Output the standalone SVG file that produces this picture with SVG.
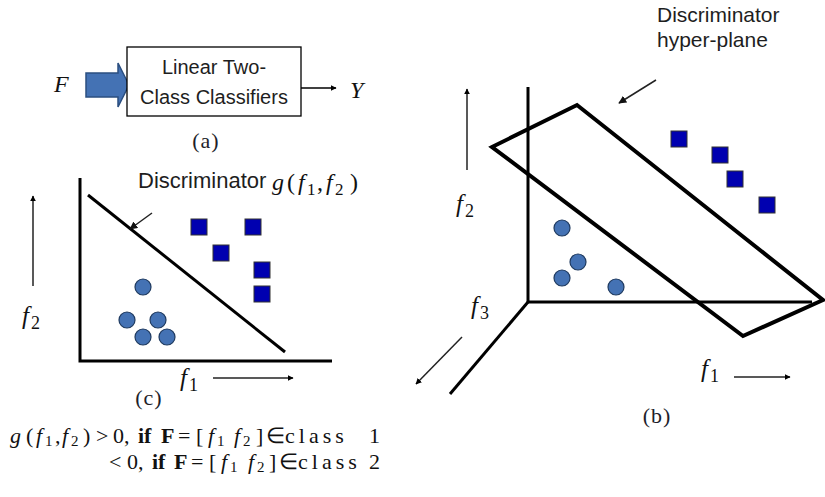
<svg xmlns="http://www.w3.org/2000/svg" width="825" height="497" viewBox="0 0 825 497">
<defs>
<marker id="ah" viewBox="0 0 10 10" refX="9" refY="5" markerWidth="6" markerHeight="6" orient="auto" markerUnits="userSpaceOnUse">
<path d="M0,0 L10,5 L0,10 z" fill="#000"/>
</marker>
<marker id="ahs" viewBox="0 0 10 10" refX="9" refY="5" markerWidth="8" markerHeight="8" orient="auto" markerUnits="userSpaceOnUse">
<path d="M0,0 L10,5 L0,10 z" fill="#111"/>
</marker>
</defs>
<style>
.sans{font-family:"Liberation Sans",Arial,sans-serif;fill:#1e1e1e;}
.ser{font-family:"Liberation Serif","Times New Roman",serif;fill:#111;}
.cap{font-family:"Liberation Serif","Times New Roman",serif;fill:#1e1e2a;font-size:22px;letter-spacing:1px;}
.it{font-style:italic;}
.b{font-weight:bold;}
.axis{stroke:#000;stroke-width:3;fill:none;}
.thick{stroke:#000;stroke-width:4;fill:none;stroke-linejoin:miter;}
.thin{stroke:#222;stroke-width:1.5;fill:none;}
.sq{fill:#0000b0;stroke:#333;stroke-width:1;}
.ci{fill:#4472b4;stroke:#1f3a5f;stroke-width:1.2;}
.cls{letter-spacing:4px;}
</style>
<rect width="825" height="497" fill="#fff"/>

<!-- (a) block diagram -->
<g id="panel-a">
<text class="ser it" x="54" y="92" font-size="24">F</text>
<path d="M86,73 L118,73 L118,63 L129,85 L118,107 L118,97 L86,97 z" fill="#4472b4" stroke="#2b4f80" stroke-width="1.5"/>
<g id="classifier">
<rect x="127" y="47" width="174" height="69" fill="#fff" stroke="#000" stroke-width="1.3"/>
<text class="sans" x="214" y="74" font-size="20" text-anchor="middle">Linear Two-</text>
<text class="sans" x="214" y="104" font-size="20" text-anchor="middle">Class Classifiers</text>
</g>
<line x1="301" y1="88" x2="336" y2="88" stroke="#000" stroke-width="1.3" marker-end="url(#ah)"/>
<text class="ser it" x="350" y="98" font-size="24">Y</text>
<text class="cap" x="206" y="148" text-anchor="middle">(a)</text>
</g>

<!-- (c) 2D -->
<g id="panel-c">
<path class="axis" d="M80,178 L80,361 L332,361"/>
<line x1="88" y1="195" x2="285" y2="352" stroke="#000" stroke-width="3"/>
<line class="thin" x1="152" y1="213" x2="130" y2="229" marker-end="url(#ahs)"/>
<text class="sans" x="138" y="188" font-size="22">Discriminator</text>
<text class="ser" y="190" font-size="24"><tspan class="it" x="272">g</tspan><tspan x="287">(</tspan><tspan class="it" x="298">f</tspan><tspan x="307" dy="5" font-size="17">1</tspan><tspan x="317" dy="-5">,</tspan><tspan class="it" x="326">f</tspan><tspan x="335" dy="5" font-size="17">2</tspan><tspan x="350" dy="-5">)</tspan></text>
<rect class="sq" x="191" y="219" width="16" height="16"/>
<rect class="sq" x="245" y="219" width="16" height="16"/>
<rect class="sq" x="213" y="245" width="16" height="16"/>
<rect class="sq" x="254" y="262" width="16" height="16"/>
<rect class="sq" x="254" y="286" width="16" height="16"/>
<circle class="ci" cx="143" cy="287" r="8"/>
<circle class="ci" cx="127" cy="320" r="8"/>
<circle class="ci" cx="158" cy="320" r="8"/>
<circle class="ci" cx="143" cy="337" r="8"/>
<circle class="ci" cx="167" cy="337" r="8"/>
<line class="thin" x1="33" y1="286" x2="33" y2="196" marker-end="url(#ah)"/>
<text class="ser" y="324" font-size="25"><tspan class="it" x="22">f</tspan><tspan x="31" dy="5" font-size="18">2</tspan></text>
<text class="ser" y="386" font-size="25"><tspan class="it" x="180">f</tspan><tspan x="189" dy="5" font-size="18">1</tspan></text>
<line class="thin" x1="213" y1="378" x2="293" y2="378" marker-end="url(#ah)"/>
<text class="cap" x="149" y="405" text-anchor="middle">(c)</text>
</g>

<!-- equations -->
<g id="equations">
<text class="ser" y="443" font-size="22"><tspan class="it" x="10">g</tspan><tspan x="26">(</tspan><tspan class="it" x="36">f</tspan><tspan x="45" dy="3" font-size="15">1</tspan><tspan x="55" dy="-3">,</tspan><tspan class="it" x="62">f</tspan><tspan x="71" dy="3" font-size="15">2</tspan><tspan x="83" dy="-3">)</tspan><tspan x="96">&gt;</tspan><tspan x="113">0,</tspan><tspan class="b" x="138">if</tspan><tspan class="b" x="161">F</tspan><tspan x="178">=</tspan><tspan x="196">[</tspan><tspan class="it" x="208">f</tspan><tspan x="217" dy="3" font-size="15">1</tspan><tspan class="it" x="234" dy="-3">f</tspan><tspan x="243" dy="3" font-size="15">2</tspan><tspan x="256" dy="-3">]</tspan><tspan x="266">∈</tspan><tspan class="cls" x="285">class</tspan><tspan x="369">1</tspan></text>
<text class="ser" y="469" font-size="22"><tspan x="109">&lt;</tspan><tspan x="127">0,</tspan><tspan class="b" x="152">if</tspan><tspan class="b" x="174">F</tspan><tspan x="191">=</tspan><tspan x="209">[</tspan><tspan class="it" x="221">f</tspan><tspan x="230" dy="3" font-size="15">1</tspan><tspan class="it" x="248" dy="-3">f</tspan><tspan x="257" dy="3" font-size="15">2</tspan><tspan x="269" dy="-3">]</tspan><tspan x="279">∈</tspan><tspan class="cls" x="298">class</tspan><tspan x="369">2</tspan></text>
</g>

<!-- (b) 3D -->
<g id="panel-b">
<text class="sans" x="657" y="22" font-size="21">Discriminator</text>
<text class="sans" x="657" y="47" font-size="21">hyper-plane</text>
<line class="thin" x1="656" y1="80" x2="619" y2="103" marker-end="url(#ahs)"/>
<path class="axis" d="M528,87 L528,302 L812,302"/>
<line x1="528" y1="302" x2="450" y2="394" stroke="#000" stroke-width="3"/>
<polygon class="thick" points="492,147 577,105 823,300 743,336"/>
<rect class="sq" x="671" y="131" width="16" height="16"/>
<rect class="sq" x="712" y="147" width="16" height="16"/>
<rect class="sq" x="727" y="171" width="16" height="16"/>
<rect class="sq" x="759" y="197" width="16" height="16"/>
<circle class="ci" cx="562" cy="228" r="8"/>
<circle class="ci" cx="578" cy="262" r="8"/>
<circle class="ci" cx="562" cy="278" r="8"/>
<circle class="ci" cx="616" cy="287" r="8"/>
<line class="thin" x1="467" y1="170" x2="467" y2="89" marker-end="url(#ah)"/>
<text class="ser" y="212" font-size="25"><tspan class="it" x="456">f</tspan><tspan x="465" dy="5" font-size="18">2</tspan></text>
<text class="ser" y="314" font-size="25"><tspan class="it" x="471">f</tspan><tspan x="480" dy="5" font-size="18">3</tspan></text>
<line class="thin" x1="462" y1="337" x2="416" y2="384" marker-end="url(#ah)"/>
<text class="ser" y="377" font-size="25"><tspan class="it" x="701">f</tspan><tspan x="710" dy="5" font-size="18">1</tspan></text>
<line class="thin" x1="734" y1="377" x2="790" y2="377" marker-end="url(#ah)"/>
<text class="cap" x="657" y="423" text-anchor="middle">(b)</text>
</g>
</svg>
